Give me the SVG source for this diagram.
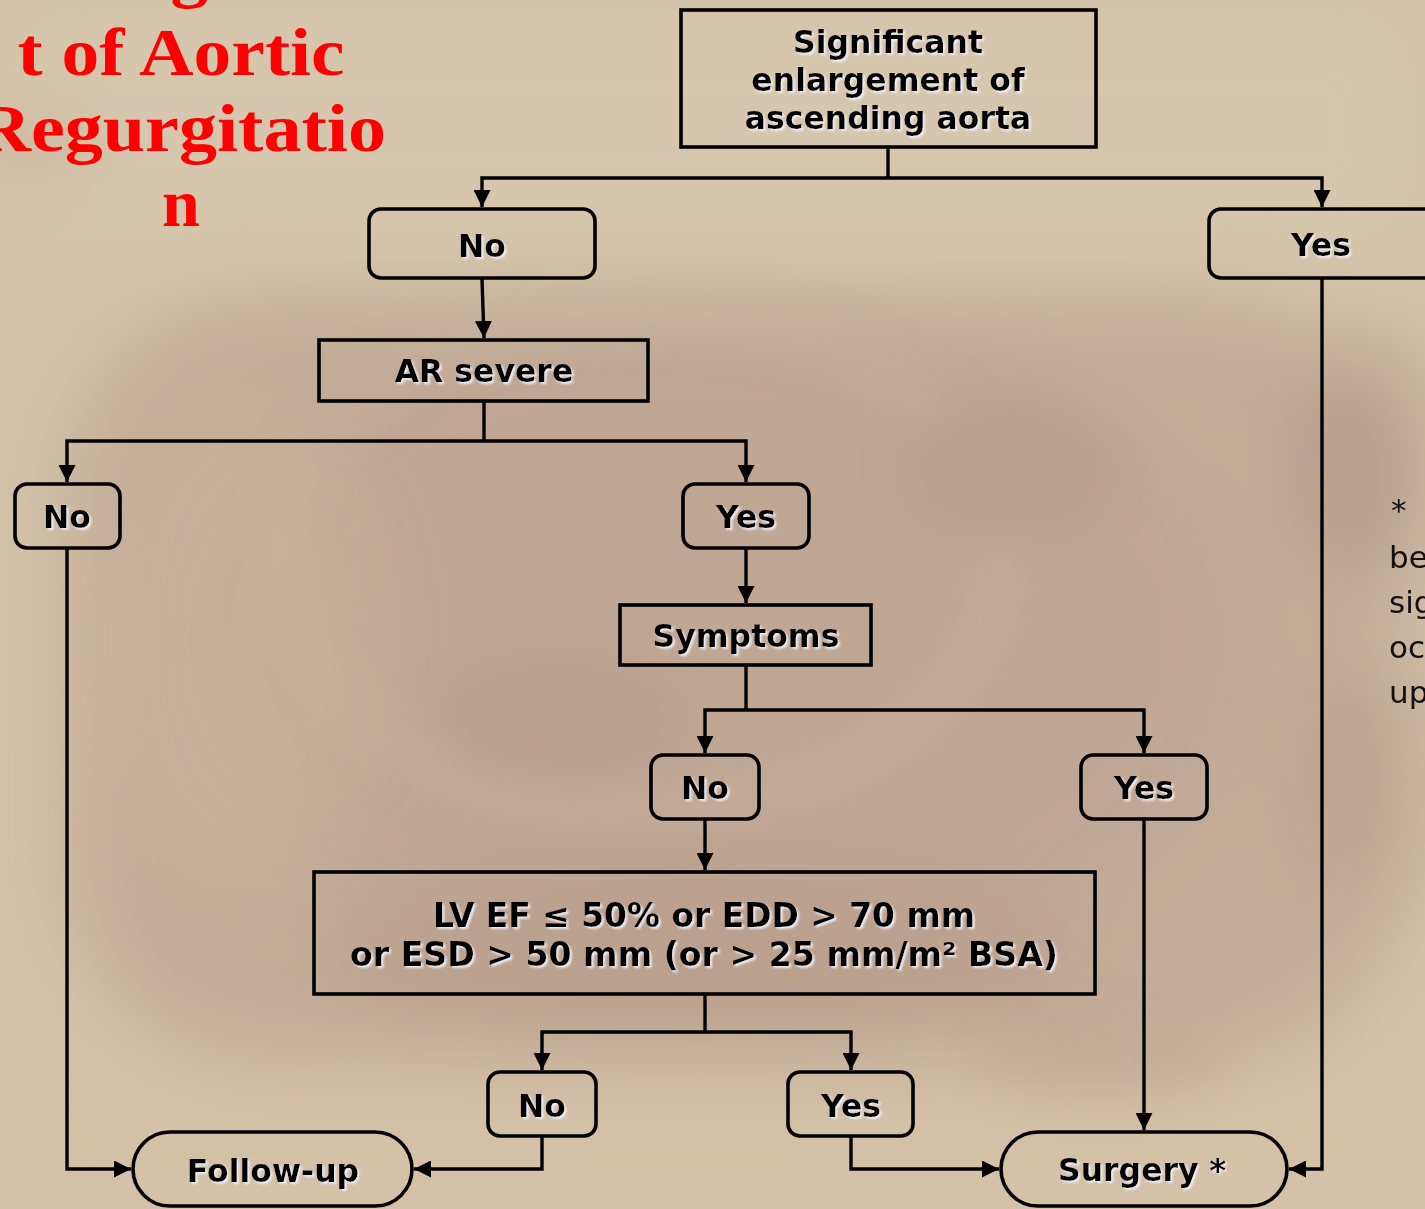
<svg xmlns="http://www.w3.org/2000/svg" width="1425" height="1209" viewBox="0 0 1425 1209">
  <defs>
    <style>
      .box { fill: none; stroke: #000; stroke-width: 3.6; }
      .wire { fill: none; stroke: #000; stroke-width: 3.4; }
      .lbl { font-family: "DejaVu Sans", Verdana, sans-serif; font-weight: bold; font-size: 31.5px; fill: #000; text-anchor: middle; filter: url(#halo); }
      .cond { font-family: "DejaVu Sans Condensed", "DejaVu Sans", sans-serif; font-stretch: condensed; font-weight: bold; font-size: 33px; fill: #000; text-anchor: middle; filter: url(#halo); }
      .title { font-family: "Liberation Serif", "Times New Roman", serif; font-weight: bold; font-size: 68px; fill: #ff0000; text-anchor: middle; }
      .note { font-family: "DejaVu Sans", Verdana, sans-serif; font-size: 31px; fill: #111; }
    </style>
    <marker id="arrow" viewBox="0 0 17 17" refX="17" refY="8.5" markerWidth="17" markerHeight="17" markerUnits="userSpaceOnUse" orient="auto-start-reverse">
      <path d="M0,0 L17,8.5 L0,17 Z" fill="#000"/>
    </marker>
    <filter id="halo" x="-10%" y="-30%" width="120%" height="160%">
      <feGaussianBlur in="SourceAlpha" stdDeviation="1.3" result="b"/>
      <feOffset in="b" dx="2" dy="2" result="o"/>
      <feFlood flood-color="#eef0f8" flood-opacity="0.95"/>
      <feComposite in2="o" operator="in" result="glow"/>
      <feMerge>
        <feMergeNode in="glow"/>
        <feMergeNode in="SourceGraphic"/>
      </feMerge>
    </filter>
    <filter id="soft" x="-20%" y="-20%" width="140%" height="140%">
      <feGaussianBlur stdDeviation="40"/>
    </filter>
    <filter id="soft2" x="-20%" y="-20%" width="140%" height="140%">
      <feGaussianBlur stdDeviation="22"/>
    </filter>
  </defs>

  <!-- textured beige backdrop -->
  <g id="backdrop">
    <rect x="0" y="0" width="1425" height="1209" fill="#d3c2a8"/>
    <g filter="url(#soft)">
      <rect x="70" y="300" width="1330" height="760" rx="200" fill="#c1a794" opacity="0.85"/>
      <ellipse cx="720" cy="640" rx="520" ry="330" fill="#bca190" opacity="0.5"/>
      <ellipse cx="700" cy="960" rx="380" ry="90" fill="#b39683" opacity="0.45"/>
      <ellipse cx="1370" cy="460" rx="70" ry="120" fill="#ad9281" opacity="0.55"/>
      <ellipse cx="1370" cy="780" rx="60" ry="120" fill="#b39886" opacity="0.5"/>
      <ellipse cx="240" cy="640" rx="140" ry="240" fill="#c9b49c" opacity="0.5"/>
      <rect x="0" y="1080" width="1425" height="140" fill="#d4c0a6" opacity="0.8"/>
      <rect x="0" y="0" width="1425" height="250" fill="#d6c7ad" opacity="0.9"/>
    </g>
    <g filter="url(#soft2)" opacity="0.3">
      <ellipse cx="640" cy="560" rx="360" ry="250" fill="none" stroke="#cbb6a1" stroke-width="40"/>
      <ellipse cx="560" cy="720" rx="120" ry="60" fill="#ad9281"/>
      <ellipse cx="1010" cy="470" rx="110" ry="70" fill="#b09684"/>
      <ellipse cx="1100" cy="1060" rx="120" ry="40" fill="#b49885"/>
      <ellipse cx="40" cy="150" rx="60" ry="40" fill="#c0ab92"/>
    </g>
  </g>

  <!-- slide title, partly cut off at the left and top -->
  <g id="title">
    <text class="title" x="181" y="-5" textLength="398" lengthAdjust="spacingAndGlyphs">Managemen</text>
    <text class="title" x="181" y="75" textLength="327" lengthAdjust="spacingAndGlyphs">t of Aortic</text>
    <text class="title" x="181" y="151" textLength="410" lengthAdjust="spacingAndGlyphs">Regurgitatio</text>
    <text class="title" x="181" y="226">n</text>
  </g>

  <!-- side note, cut off at the right edge -->
  <g id="side-note">
    <text class="note" x="1391" y="521">*</text>
    <text class="note" x="1389" y="568">be</text>
    <text class="note" x="1389" y="613">sig</text>
    <text class="note" x="1389" y="658">oc</text>
    <text class="note" x="1389" y="703">up</text>
  </g>

  <!-- connectors -->
  <g id="connectors">
    <path class="wire" d="M888,148 V178"/>
    <path class="wire" d="M482,207 V178 H1322 V207" marker-start="url(#arrow)" marker-end="url(#arrow)"/>
    <path class="wire" d="M482,279 L484,338" marker-end="url(#arrow)"/>
    <path class="wire" d="M484,401 V441"/>
    <path class="wire" d="M67,482 V441 H746 V482" marker-start="url(#arrow)" marker-end="url(#arrow)"/>
    <path class="wire" d="M67,549 V1169 H131" marker-end="url(#arrow)"/>
    <path class="wire" d="M746,549 V603" marker-end="url(#arrow)"/>
    <path class="wire" d="M746,666 V710"/>
    <path class="wire" d="M705,753 V710 H1144 V753" marker-start="url(#arrow)" marker-end="url(#arrow)"/>
    <path class="wire" d="M705,820 V870" marker-end="url(#arrow)"/>
    <path class="wire" d="M705,995 V1032"/>
    <path class="wire" d="M542,1070 V1032 H851 V1070" marker-start="url(#arrow)" marker-end="url(#arrow)"/>
    <path class="wire" d="M542,1137 V1169 H414" marker-end="url(#arrow)"/>
    <path class="wire" d="M851,1137 V1169 H999" marker-end="url(#arrow)"/>
    <path class="wire" d="M1144,820 V1130" marker-end="url(#arrow)"/>
    <path class="wire" d="M1322,279 V1169 H1289" marker-end="url(#arrow)"/>
  </g>

  <!-- nodes -->
  <g id="n-aorta">
    <rect class="box" x="681" y="10" width="415" height="137"/>
    <text class="lbl" x="888" y="53">Significant</text>
    <text class="lbl" x="888" y="91">enlargement of</text>
    <text class="lbl" x="888" y="129">ascending aorta</text>
  </g>
  <g id="n-no1">
    <rect class="box" x="369" y="209" width="226" height="69" rx="12"/>
    <text class="lbl" x="482" y="257">No</text>
  </g>
  <g id="n-yes1">
    <rect class="box" x="1209" y="209" width="240" height="69" rx="12"/>
    <text class="lbl" x="1321" y="256">Yes</text>
  </g>
  <g id="n-ar">
    <rect class="box" x="319" y="340" width="329" height="61"/>
    <text class="lbl" x="484" y="382">AR severe</text>
  </g>
  <g id="n-no2">
    <rect class="box" x="15" y="484" width="105" height="64" rx="12"/>
    <text class="lbl" x="67" y="528">No</text>
  </g>
  <g id="n-yes2">
    <rect class="box" x="683" y="484" width="126" height="64" rx="12"/>
    <text class="lbl" x="746" y="528">Yes</text>
  </g>
  <g id="n-symptoms">
    <rect class="box" x="620" y="605" width="251" height="60"/>
    <text class="lbl" x="746" y="647">Symptoms</text>
  </g>
  <g id="n-no3">
    <rect class="box" x="651" y="755" width="108" height="64" rx="12"/>
    <text class="lbl" x="705" y="799">No</text>
  </g>
  <g id="n-yes3">
    <rect class="box" x="1081" y="755" width="126" height="64" rx="12"/>
    <text class="lbl" x="1144" y="799">Yes</text>
  </g>
  <g id="n-lv">
    <rect class="box" x="314" y="872" width="781" height="122"/>
    <text class="cond" x="704" y="927" textLength="542" lengthAdjust="spacingAndGlyphs">LV EF ≤ 50% or EDD &gt; 70 mm</text>
    <text class="cond" x="704" y="966" textLength="708" lengthAdjust="spacingAndGlyphs">or ESD &gt; 50 mm (or &gt; 25 mm/m² BSA)</text>
  </g>
  <g id="n-no4">
    <rect class="box" x="488" y="1072" width="108" height="64" rx="12"/>
    <text class="lbl" x="542" y="1117">No</text>
  </g>
  <g id="n-yes4">
    <rect class="box" x="788" y="1072" width="125" height="64" rx="12"/>
    <text class="lbl" x="851" y="1117">Yes</text>
  </g>
  <g id="n-followup">
    <rect class="box" x="133" y="1132" width="279" height="74" rx="37"/>
    <text class="lbl" x="273" y="1182">Follow-up</text>
  </g>
  <g id="n-surgery">
    <rect class="box" x="1001" y="1132" width="286" height="74" rx="37"/>
    <text class="lbl" x="1142" y="1181">Surgery *</text>
  </g>
</svg>
